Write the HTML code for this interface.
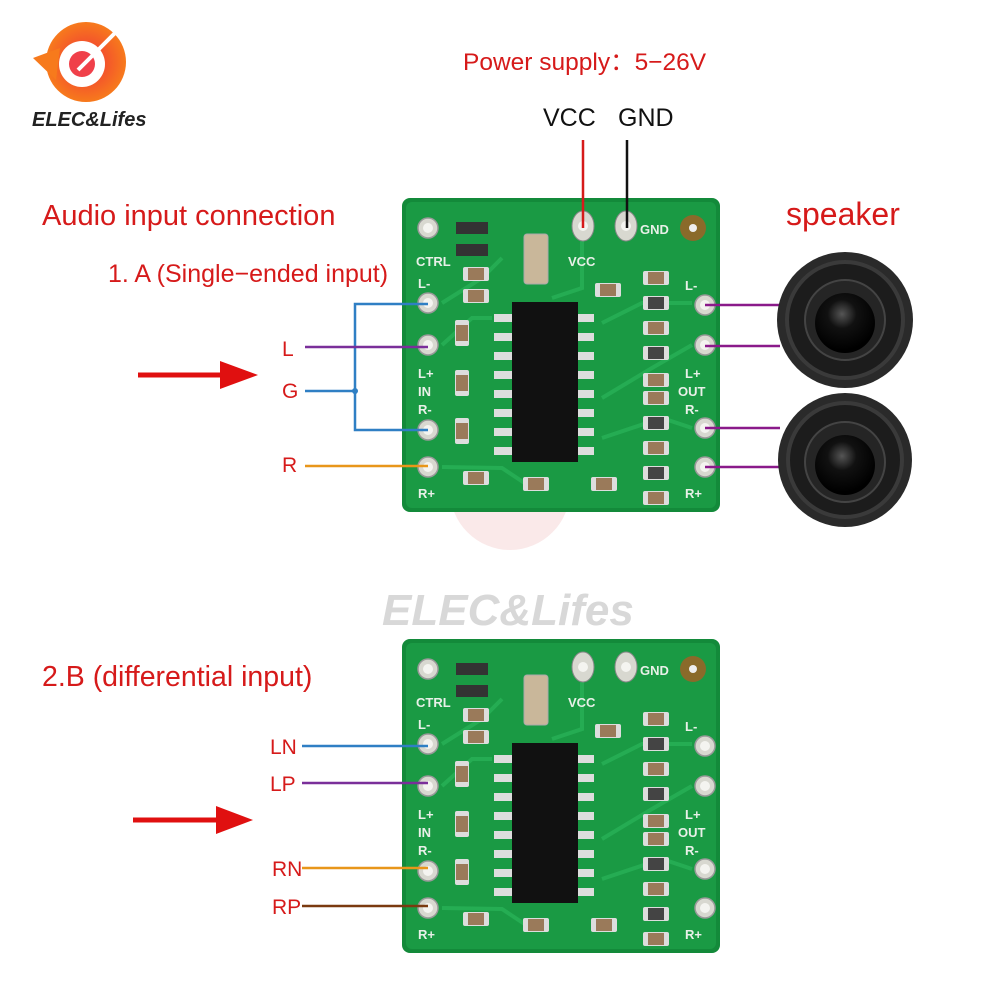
<!DOCTYPE html>
<html><head><meta charset="utf-8"><style>
html,body{margin:0;padding:0;background:#fff}
svg{display:block}
text{font-family:"Liberation Sans",Arial,sans-serif}
</style></head><body>
<svg width="1000" height="1000" viewBox="0 0 1000 1000" xmlns="http://www.w3.org/2000/svg">
<defs>
 <radialGradient id="lg" cx="0.5" cy="0.5" r="0.5">
  <stop offset="0" stop-color="#f0303a"/><stop offset="1" stop-color="#f77a1c"/>
 </radialGradient>
 <radialGradient id="dome" cx="0.45" cy="0.35" r="0.6">
  <stop offset="0" stop-color="#555"/><stop offset="0.4" stop-color="#111"/><stop offset="1" stop-color="#000"/>
 </radialGradient>
 <g id="pin"><circle r="10" fill="#d8d8d0" stroke="#999" stroke-width="1.5"/><circle r="5" fill="#f4f4f0"/></g>
 <g id="cap"><rect x="-13" y="-7" width="26" height="14" rx="2" fill="#ddd"/><rect x="-8" y="-6" width="16" height="12" fill="#9a7a5a"/></g>
 <g id="capv"><rect x="-7" y="-13" width="14" height="26" rx="2" fill="#ddd"/><rect x="-6" y="-8" width="12" height="16" fill="#9a7a5a"/></g>
 <g id="capd"><rect x="-13" y="-7" width="26" height="14" rx="2" fill="#ddd"/><rect x="-8" y="-6" width="16" height="12" fill="#444"/></g>
 <g id="board">
  <rect x="0" y="0" width="318" height="314" rx="8" fill="#138a3a"/>
  <rect x="4" y="4" width="310" height="306" rx="6" fill="#1a9a44"/>
  <g stroke="#2bb55a" stroke-width="4" fill="none" opacity="0.7">
   <path d="M40 105 L80 80 L100 60"/><path d="M40 147 L70 120 L90 120"/><path d="M200 125 L240 105 L290 105"/>
   <path d="M200 200 L250 170 L290 147"/><path d="M200 240 L260 220 L290 230"/><path d="M40 269 L100 270 L130 290"/>
   <path d="M180 40 L180 90 L150 100"/>
  </g>
  <use href="#pin" x="26" y="30"/>
  <use href="#pin" x="26" y="105"/><use href="#pin" x="26" y="147"/><use href="#pin" x="26" y="232"/><use href="#pin" x="26" y="269"/>
  <use href="#pin" x="303" y="107"/><use href="#pin" x="303" y="147"/><use href="#pin" x="303" y="230"/><use href="#pin" x="303" y="269"/>
  <ellipse cx="181" cy="28" rx="11" ry="15" fill="#d8d8d0" stroke="#888"/><circle cx="181" cy="28" r="5" fill="#f4f4f0"/>
  <ellipse cx="224" cy="28" rx="11" ry="15" fill="#d8d8d0" stroke="#888"/><circle cx="224" cy="28" r="5" fill="#f4f4f0"/>
  <circle cx="291" cy="30" r="13" fill="#8a6a2a"/><circle cx="291" cy="30" r="4" fill="#eee"/>
  <rect x="54" y="24" width="32" height="12" fill="#333"/><rect x="54" y="46" width="32" height="12" fill="#333"/>
  <rect x="122" y="36" width="24" height="50" rx="3" fill="#c9b79a" stroke="#aaa"/>
  <use href="#cap" x="74" y="76"/><use href="#cap" x="74" y="98"/>
  <use href="#capv" x="60" y="135"/><use href="#capv" x="60" y="185"/><use href="#capv" x="60" y="233"/>
  <use href="#cap" x="74" y="280"/><use href="#cap" x="134" y="286"/><use href="#cap" x="202" y="286"/>
  <use href="#cap" x="206" y="92"/>
  <use href="#cap" x="254" y="80"/><use href="#capd" x="254" y="105"/><use href="#cap" x="254" y="130"/><use href="#capd" x="254" y="155"/>
  <use href="#cap" x="254" y="182"/><use href="#cap" x="254" y="200"/><use href="#capd" x="254" y="225"/><use href="#cap" x="254" y="250"/><use href="#capd" x="254" y="275"/><use href="#cap" x="254" y="300"/>
  <g fill="#ddd">
   <rect x="92" y="116" width="20" height="8"/><rect x="92" y="135" width="20" height="8"/><rect x="92" y="154" width="20" height="8"/><rect x="92" y="173" width="20" height="8"/>
   <rect x="92" y="192" width="20" height="8"/><rect x="92" y="211" width="20" height="8"/><rect x="92" y="230" width="20" height="8"/><rect x="92" y="249" width="20" height="8"/>
   <rect x="172" y="116" width="20" height="8"/><rect x="172" y="135" width="20" height="8"/><rect x="172" y="154" width="20" height="8"/><rect x="172" y="173" width="20" height="8"/>
   <rect x="172" y="192" width="20" height="8"/><rect x="172" y="211" width="20" height="8"/><rect x="172" y="230" width="20" height="8"/><rect x="172" y="249" width="20" height="8"/>
  </g>
  <rect x="110" y="104" width="66" height="160" fill="#111"/>
  <g fill="#e8f0e8" font-size="13" font-family="Liberation Mono,monospace" font-weight="bold">
   <text x="14" y="68">CTRL</text><text x="16" y="90">L-</text><text x="16" y="180">L+</text><text x="16" y="198">IN</text><text x="16" y="216">R-</text><text x="16" y="300">R+</text>
   <text x="166" y="68">VCC</text><text x="238" y="36">GND</text>
   <text x="283" y="92">L-</text><text x="283" y="180">L+</text><text x="276" y="198">OUT</text><text x="283" y="216">R-</text><text x="283" y="300">R+</text>
  </g>
 </g>
</defs>

<!-- logo -->
<circle cx="86" cy="62" r="40" fill="url(#lg)"/>
<path d="M33 58 L60 48 L56 80 Z" fill="#f77a1c"/>
<circle cx="82" cy="64" r="23" fill="#fff"/>
<circle cx="82" cy="64" r="13" fill="#f0404a"/>
<path d="M78 70 L116 32" stroke="#fff" stroke-width="4"/>
<text x="32" y="126" font-size="20" font-weight="bold" font-style="italic" fill="#222">ELEC&amp;Lifes</text>

<!-- watermark -->
<text x="382" y="625" font-size="44" font-weight="bold" font-style="italic" fill="#d8d8d8">ELEC&amp;Lifes</text>
<circle cx="510" cy="490" r="60" fill="#f2c8c8" opacity="0.4"/>

<!-- titles -->
<text x="463" y="70" font-size="24.5" fill="#d61a1a">Power supply：5−26V</text>
<text x="543" y="126" font-size="25" fill="#111">VCC</text>
<text x="618" y="126" font-size="25" fill="#111">GND</text>
<text x="42" y="225" font-size="29" fill="#d61a1a">Audio input connection</text>
<text x="108" y="282" font-size="25" fill="#d61a1a">1. A (Single−ended input)</text>
<text x="786" y="225" font-size="32" fill="#d61a1a">speaker</text>
<text x="42" y="686" font-size="28.5" fill="#d61a1a">2.B (differential input)</text>

<!-- boards -->
<use href="#board" x="402" y="198"/>
<use href="#board" x="402" y="639"/>

<!-- power wires -->
<line x1="583" y1="140" x2="583" y2="228" stroke="#d61a1a" stroke-width="2.5"/>
<line x1="627" y1="140" x2="627" y2="228" stroke="#111" stroke-width="2.5"/>

<!-- board 1 input wires -->
<g fill="none" stroke-width="2.5">
 <path d="M428 304 H355 V430 H428" stroke="#2f7fc4"/>
 <line x1="305" y1="391" x2="355" y2="391" stroke="#2f7fc4"/>
 <line x1="305" y1="347" x2="428" y2="347" stroke="#7a2f9a"/>
 <line x1="305" y1="466" x2="428" y2="466" stroke="#e8961a"/>
 <line x1="705" y1="305" x2="780" y2="305" stroke="#8a1a8a"/>
 <line x1="705" y1="346" x2="780" y2="346" stroke="#8a1a8a"/>
 <line x1="705" y1="428" x2="780" y2="428" stroke="#8a1a8a"/>
 <line x1="705" y1="467" x2="780" y2="467" stroke="#8a1a8a"/>
</g>
<circle cx="355" cy="391" r="3" fill="#2f7fc4"/>
<text x="282" y="356" font-size="21" fill="#d61a1a">L</text>
<text x="282" y="398" font-size="21" fill="#d61a1a">G</text>
<text x="282" y="472" font-size="21" fill="#d61a1a">R</text>

<!-- board 2 wires -->
<g fill="none" stroke-width="2.5">
 <line x1="302" y1="746" x2="428" y2="746" stroke="#2f7fc4"/>
 <line x1="302" y1="783" x2="428" y2="783" stroke="#7a2f9a"/>
 <line x1="302" y1="868" x2="428" y2="868" stroke="#e8961a"/>
 <line x1="302" y1="906" x2="428" y2="906" stroke="#7a3a10"/>
</g>
<text x="270" y="754" font-size="21" fill="#d61a1a">LN</text>
<text x="270" y="791" font-size="21" fill="#d61a1a">LP</text>
<text x="272" y="876" font-size="21" fill="#d61a1a">RN</text>
<text x="272" y="914" font-size="21" fill="#d61a1a">RP</text>

<!-- arrows -->
<line x1="138" y1="375" x2="225" y2="375" stroke="#e01010" stroke-width="5"/>
<polygon points="220,361 258,375 220,389" fill="#e01010"/>
<line x1="133" y1="820" x2="222" y2="820" stroke="#e01010" stroke-width="5"/>
<polygon points="216,806 253,820 216,834" fill="#e01010"/>

<!-- speakers -->
<g>
 <circle cx="845" cy="320" r="68" fill="#2a2a2a"/>
 <circle cx="845" cy="320" r="58" fill="#1c1c1c" stroke="#3a3a3a" stroke-width="4"/>
 <circle cx="845" cy="320" r="40" fill="#252525" stroke="#444" stroke-width="2"/>
 <circle cx="845" cy="323" r="30" fill="url(#dome)"/>
 <circle cx="845" cy="460" r="67" fill="#2a2a2a"/>
 <circle cx="845" cy="460" r="57" fill="#1c1c1c" stroke="#3a3a3a" stroke-width="4"/>
 <circle cx="845" cy="462" r="40" fill="#252525" stroke="#444" stroke-width="2"/>
 <circle cx="845" cy="465" r="30" fill="url(#dome)"/>
</g>
</svg>
</body></html>
